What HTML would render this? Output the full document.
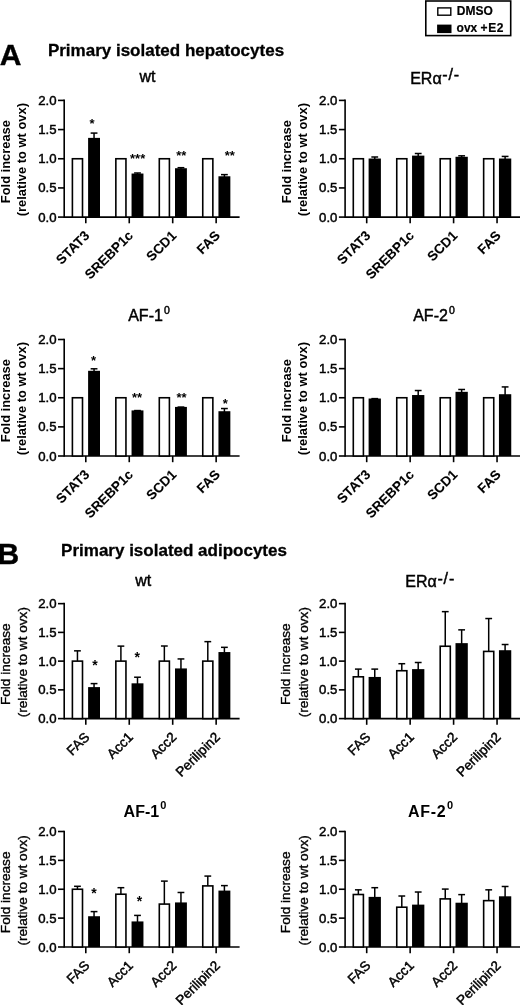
<!DOCTYPE html>
<html><head><meta charset="utf-8"><style>
html,body{margin:0;padding:0;background:#fff;}
body{width:520px;height:1005px;overflow:hidden;}
svg{display:block;will-change:transform;font-family:"Liberation Sans",sans-serif;}
line{stroke:#000;stroke-linecap:butt;}
.wb{fill:#fff;stroke:#000;stroke-width:1.6;}
.bb{fill:#000;}
.yt{font-size:13.2px;text-anchor:end;fill:#000;stroke:#000;stroke-width:0.45px;}
.ylb{font-size:13.6px;text-anchor:middle;stroke:#000;stroke-width:0.35px;}
.xlb{font-size:13.6px;text-anchor:end;stroke:#000;stroke-width:0.45px;}
.yl{font-size:12.9px;font-weight:bold;text-anchor:middle;}
.xl{font-size:13.5px;font-weight:bold;text-anchor:end;stroke:#000;stroke-width:0.1px;}
.st{font-size:13px;font-weight:bold;text-anchor:middle;}
.stb{font-size:14px;font-weight:bold;text-anchor:middle;}
.big{font-size:30px;font-weight:bold;stroke:#000;stroke-width:0.4px;}
.hd{font-size:17px;font-weight:bold;stroke:#000;stroke-width:0.3px;}
.pt{font-size:16px;stroke:#000;stroke-width:0.45px;}
.ptb{font-size:16px;font-weight:bold;}
.lg{font-size:12px;font-weight:bold;stroke:#000;stroke-width:0.2px;}
</style></head><body>
<svg width="520" height="1005" viewBox="0 0 520 1005">
<rect x="425.8" y="1" width="84.9" height="34.6" fill="#fff" stroke="#000" stroke-width="1.6"/>
<rect x="437.8" y="7.9" width="13" height="7.3" fill="#fff" stroke="#000" stroke-width="1.4"/>
<rect x="437.1" y="24.6" width="14.4" height="8.5" fill="#000"/>
<text class="lg" x="456.8" y="15">DMSO</text>
<text class="lg" x="456.6" y="32">ovx <tspan letter-spacing="0.6">+E2</tspan></text>
<text class="big" x="-0.2" y="65">A</text>
<text class="hd" x="47.9" y="55.8">Primary isolated hepatocytes</text>
<text class="big" x="-2.6" y="564.2">B</text>
<text class="hd" x="61.1" y="556">Primary isolated adipocytes</text>
<text class="pt" x="139.4" y="81.7">wt</text>
<text class="pt" x="410.2" y="83.5">ERα<tspan dx="0.6" dy="-3.7" letter-spacing="0.9">-/-</tspan></text>
<text class="pt" x="128.2" y="320.9">AF-1<tspan dx="1.2" dy="-6.8" font-size="10.5">0</tspan></text>
<text class="pt" x="413.2" y="320.9">AF-2<tspan dx="1.2" dy="-6.8" font-size="10.5">0</tspan></text>
<text class="pt" x="135.2" y="585.8">wt</text>
<text class="pt" x="405.3" y="587.2">ERα<tspan dx="0.6" dy="-3.7" letter-spacing="0.9">-/-</tspan></text>
<text class="ptb" x="123.6" y="816.6">AF-1<tspan dx="1.2" dy="-8" font-size="11">0</tspan></text>
<text class="ptb" x="408" y="816.6" letter-spacing="0.7">AF-2<tspan dx="0.6" dy="-8" font-size="11">0</tspan></text>
<g>
<line x1="64.2" y1="99.6" x2="64.2" y2="217.9" stroke-width="1.6"/>
<line x1="58" y1="217.1" x2="64.2" y2="217.1" stroke-width="1.6"/>
<text class="yt" x="56.5" y="221.6">0.0</text>
<line x1="58" y1="187.93" x2="64.2" y2="187.93" stroke-width="1.6"/>
<text class="yt" x="56.5" y="192.43">0.5</text>
<line x1="58" y1="158.75" x2="64.2" y2="158.75" stroke-width="1.6"/>
<text class="yt" x="56.5" y="163.25">1.0</text>
<line x1="58" y1="129.57" x2="64.2" y2="129.57" stroke-width="1.6"/>
<text class="yt" x="56.5" y="134.07">1.5</text>
<line x1="58" y1="100.4" x2="64.2" y2="100.4" stroke-width="1.6"/>
<text class="yt" x="56.5" y="104.9">2.0</text>
<line x1="64.2" y1="217.1" x2="239.6" y2="217.1" stroke-width="1.6"/>
<text class="yl" transform="translate(10.2,161.65) rotate(-90)">Fold increase</text>
<text class="yl" transform="translate(26.2,159.65) rotate(-90)">(relative to wt ovx)</text>
<line x1="85.8" y1="217.1" x2="85.8" y2="223.3" stroke-width="1.6"/>
<rect class="wb" x="72.4" y="158.75" width="10.1" height="58.35"/>
<line x1="94.05" y1="138.68" x2="94.05" y2="133.08" stroke-width="1.5"/>
<line x1="90.65" y1="133.08" x2="97.45" y2="133.08" stroke-width="1.5"/>
<rect class="bb" x="88.1" y="137.88" width="11.9" height="79.22"/>
<text class="st" x="92.1" y="127.8">*</text>
<text class="xl" transform="translate(90.4,236.5) rotate(-45)">STAT3</text>
<line x1="129.25" y1="217.1" x2="129.25" y2="223.3" stroke-width="1.6"/>
<rect class="wb" x="115.85" y="158.75" width="10.1" height="58.35"/>
<line x1="137.5" y1="174.33" x2="137.5" y2="172.99" stroke-width="1.5"/>
<line x1="134.1" y1="172.99" x2="140.9" y2="172.99" stroke-width="1.5"/>
<rect class="bb" x="131.55" y="173.53" width="11.9" height="43.57"/>
<text class="st" x="137.65" y="162.5">***</text>
<text class="xl" transform="translate(133.85,236.5) rotate(-45)">SREBP1c</text>
<line x1="172.7" y1="217.1" x2="172.7" y2="223.3" stroke-width="1.6"/>
<rect class="wb" x="159.3" y="158.75" width="10.1" height="58.35"/>
<line x1="180.95" y1="169.02" x2="180.95" y2="167.68" stroke-width="1.5"/>
<line x1="177.55" y1="167.68" x2="184.35" y2="167.68" stroke-width="1.5"/>
<rect class="bb" x="175" y="168.22" width="11.9" height="48.88"/>
<text class="st" x="181.25" y="159.9">**</text>
<text class="xl" transform="translate(177.3,236.5) rotate(-45)">SCD1</text>
<line x1="216.15" y1="217.1" x2="216.15" y2="223.3" stroke-width="1.6"/>
<rect class="wb" x="202.75" y="158.75" width="10.1" height="58.35"/>
<line x1="224.4" y1="177.07" x2="224.4" y2="174.62" stroke-width="1.5"/>
<line x1="221" y1="174.62" x2="227.8" y2="174.62" stroke-width="1.5"/>
<rect class="bb" x="218.45" y="176.27" width="11.9" height="40.83"/>
<text class="st" x="229.8" y="160.4">**</text>
<text class="xl" transform="translate(220.75,236.5) rotate(-45)">FAS</text>
<line x1="345.1" y1="99.6" x2="345.1" y2="217.9" stroke-width="1.6"/>
<line x1="338.9" y1="217.1" x2="345.1" y2="217.1" stroke-width="1.6"/>
<text class="yt" x="337.4" y="221.6">0.0</text>
<line x1="338.9" y1="187.93" x2="345.1" y2="187.93" stroke-width="1.6"/>
<text class="yt" x="337.4" y="192.43">0.5</text>
<line x1="338.9" y1="158.75" x2="345.1" y2="158.75" stroke-width="1.6"/>
<text class="yt" x="337.4" y="163.25">1.0</text>
<line x1="338.9" y1="129.57" x2="345.1" y2="129.57" stroke-width="1.6"/>
<text class="yt" x="337.4" y="134.07">1.5</text>
<line x1="338.9" y1="100.4" x2="345.1" y2="100.4" stroke-width="1.6"/>
<text class="yt" x="337.4" y="104.9">2.0</text>
<line x1="345.1" y1="217.1" x2="520.5" y2="217.1" stroke-width="1.6"/>
<text class="yl" transform="translate(291.1,161.65) rotate(-90)">Fold increase</text>
<text class="yl" transform="translate(307.1,159.65) rotate(-90)">(relative to wt ovx)</text>
<line x1="366.7" y1="217.1" x2="366.7" y2="223.3" stroke-width="1.6"/>
<rect class="wb" x="353.3" y="158.75" width="10.1" height="58.35"/>
<line x1="374.75" y1="159.33" x2="374.75" y2="157" stroke-width="1.5"/>
<line x1="371.35" y1="157" x2="378.15" y2="157" stroke-width="1.5"/>
<rect class="bb" x="368.6" y="158.53" width="12.3" height="58.57"/>
<text class="xl" transform="translate(371.3,236.5) rotate(-45)">STAT3</text>
<line x1="410.15" y1="217.1" x2="410.15" y2="223.3" stroke-width="1.6"/>
<rect class="wb" x="396.75" y="158.75" width="10.1" height="58.35"/>
<line x1="418.2" y1="156.42" x2="418.2" y2="153.5" stroke-width="1.5"/>
<line x1="414.8" y1="153.5" x2="421.6" y2="153.5" stroke-width="1.5"/>
<rect class="bb" x="412.05" y="155.62" width="12.3" height="61.48"/>
<text class="xl" transform="translate(414.75,236.5) rotate(-45)">SREBP1c</text>
<line x1="453.6" y1="217.1" x2="453.6" y2="223.3" stroke-width="1.6"/>
<rect class="wb" x="440.2" y="158.75" width="10.1" height="58.35"/>
<line x1="461.65" y1="157.58" x2="461.65" y2="155.83" stroke-width="1.5"/>
<line x1="458.25" y1="155.83" x2="465.05" y2="155.83" stroke-width="1.5"/>
<rect class="bb" x="455.5" y="156.78" width="12.3" height="60.32"/>
<text class="xl" transform="translate(458.2,236.5) rotate(-45)">SCD1</text>
<line x1="497.05" y1="217.1" x2="497.05" y2="223.3" stroke-width="1.6"/>
<rect class="wb" x="483.65" y="158.75" width="10.1" height="58.35"/>
<line x1="505.1" y1="159.33" x2="505.1" y2="156.42" stroke-width="1.5"/>
<line x1="501.7" y1="156.42" x2="508.5" y2="156.42" stroke-width="1.5"/>
<rect class="bb" x="498.95" y="158.53" width="12.3" height="58.57"/>
<text class="xl" transform="translate(501.65,236.5) rotate(-45)">FAS</text>
<line x1="64.2" y1="338.7" x2="64.2" y2="456.8" stroke-width="1.6"/>
<line x1="58" y1="456" x2="64.2" y2="456" stroke-width="1.6"/>
<text class="yt" x="56.5" y="460.5">0.0</text>
<line x1="58" y1="426.88" x2="64.2" y2="426.88" stroke-width="1.6"/>
<text class="yt" x="56.5" y="431.38">0.5</text>
<line x1="58" y1="397.75" x2="64.2" y2="397.75" stroke-width="1.6"/>
<text class="yt" x="56.5" y="402.25">1.0</text>
<line x1="58" y1="368.62" x2="64.2" y2="368.62" stroke-width="1.6"/>
<text class="yt" x="56.5" y="373.12">1.5</text>
<line x1="58" y1="339.5" x2="64.2" y2="339.5" stroke-width="1.6"/>
<text class="yt" x="56.5" y="344">2.0</text>
<line x1="64.2" y1="456" x2="239.6" y2="456" stroke-width="1.6"/>
<text class="yl" transform="translate(10.2,400.65) rotate(-90)">Fold increase</text>
<text class="yl" transform="translate(26.2,398.65) rotate(-90)">(relative to wt ovx)</text>
<line x1="85.8" y1="456" x2="85.8" y2="462.2" stroke-width="1.6"/>
<rect class="wb" x="72.4" y="397.75" width="10.1" height="58.25"/>
<line x1="94.05" y1="371.6" x2="94.05" y2="368.8" stroke-width="1.5"/>
<line x1="90.65" y1="368.8" x2="97.45" y2="368.8" stroke-width="1.5"/>
<rect class="bb" x="88.1" y="370.8" width="11.9" height="85.2"/>
<text class="st" x="93.5" y="364.6">*</text>
<text class="xl" transform="translate(90.4,475.4) rotate(-45)">STAT3</text>
<line x1="129.25" y1="456" x2="129.25" y2="462.2" stroke-width="1.6"/>
<rect class="wb" x="115.85" y="397.75" width="10.1" height="58.25"/>
<line x1="137.5" y1="411.21" x2="137.5" y2="410.56" stroke-width="1.5"/>
<line x1="134.1" y1="410.56" x2="140.9" y2="410.56" stroke-width="1.5"/>
<rect class="bb" x="131.55" y="410.41" width="11.9" height="45.59"/>
<text class="st" x="137.1" y="402.4">**</text>
<text class="xl" transform="translate(133.85,475.4) rotate(-45)">SREBP1c</text>
<line x1="172.7" y1="456" x2="172.7" y2="462.2" stroke-width="1.6"/>
<rect class="wb" x="159.3" y="397.75" width="10.1" height="58.25"/>
<line x1="180.95" y1="407.71" x2="180.95" y2="407.07" stroke-width="1.5"/>
<line x1="177.55" y1="407.07" x2="184.35" y2="407.07" stroke-width="1.5"/>
<rect class="bb" x="175" y="406.91" width="11.9" height="49.09"/>
<text class="st" x="181.5" y="402.4">**</text>
<text class="xl" transform="translate(177.3,475.4) rotate(-45)">SCD1</text>
<line x1="216.15" y1="456" x2="216.15" y2="462.2" stroke-width="1.6"/>
<rect class="wb" x="202.75" y="397.75" width="10.1" height="58.25"/>
<line x1="224.4" y1="412.02" x2="224.4" y2="408.53" stroke-width="1.5"/>
<line x1="221" y1="408.53" x2="227.8" y2="408.53" stroke-width="1.5"/>
<rect class="bb" x="218.45" y="411.22" width="11.9" height="44.78"/>
<text class="st" x="225.4" y="408.2">*</text>
<text class="xl" transform="translate(220.75,475.4) rotate(-45)">FAS</text>
<line x1="345.1" y1="338.7" x2="345.1" y2="456.8" stroke-width="1.6"/>
<line x1="338.9" y1="456" x2="345.1" y2="456" stroke-width="1.6"/>
<text class="yt" x="337.4" y="460.5">0.0</text>
<line x1="338.9" y1="426.88" x2="345.1" y2="426.88" stroke-width="1.6"/>
<text class="yt" x="337.4" y="431.38">0.5</text>
<line x1="338.9" y1="397.75" x2="345.1" y2="397.75" stroke-width="1.6"/>
<text class="yt" x="337.4" y="402.25">1.0</text>
<line x1="338.9" y1="368.62" x2="345.1" y2="368.62" stroke-width="1.6"/>
<text class="yt" x="337.4" y="373.12">1.5</text>
<line x1="338.9" y1="339.5" x2="345.1" y2="339.5" stroke-width="1.6"/>
<text class="yt" x="337.4" y="344">2.0</text>
<line x1="345.1" y1="456" x2="520.5" y2="456" stroke-width="1.6"/>
<text class="yl" transform="translate(291.1,400.65) rotate(-90)">Fold increase</text>
<text class="yl" transform="translate(307.1,398.65) rotate(-90)">(relative to wt ovx)</text>
<line x1="366.7" y1="456" x2="366.7" y2="462.2" stroke-width="1.6"/>
<rect class="wb" x="353.3" y="397.75" width="10.1" height="58.25"/>
<line x1="374.75" y1="399.32" x2="374.75" y2="398.62" stroke-width="1.5"/>
<line x1="371.35" y1="398.62" x2="378.15" y2="398.62" stroke-width="1.5"/>
<rect class="bb" x="368.6" y="398.52" width="12.3" height="57.48"/>
<text class="xl" transform="translate(371.3,475.4) rotate(-45)">STAT3</text>
<line x1="410.15" y1="456" x2="410.15" y2="462.2" stroke-width="1.6"/>
<rect class="wb" x="396.75" y="397.75" width="10.1" height="58.25"/>
<line x1="418.2" y1="395.83" x2="418.2" y2="390.53" stroke-width="1.5"/>
<line x1="414.8" y1="390.53" x2="421.6" y2="390.53" stroke-width="1.5"/>
<rect class="bb" x="412.05" y="395.03" width="12.3" height="60.97"/>
<text class="xl" transform="translate(414.75,475.4) rotate(-45)">SREBP1c</text>
<line x1="453.6" y1="456" x2="453.6" y2="462.2" stroke-width="1.6"/>
<rect class="wb" x="440.2" y="397.75" width="10.1" height="58.25"/>
<line x1="461.65" y1="392.62" x2="461.65" y2="389.48" stroke-width="1.5"/>
<line x1="458.25" y1="389.48" x2="465.05" y2="389.48" stroke-width="1.5"/>
<rect class="bb" x="455.5" y="391.82" width="12.3" height="64.18"/>
<text class="xl" transform="translate(458.2,475.4) rotate(-45)">SCD1</text>
<line x1="497.05" y1="456" x2="497.05" y2="462.2" stroke-width="1.6"/>
<rect class="wb" x="483.65" y="397.75" width="10.1" height="58.25"/>
<line x1="505.1" y1="395.01" x2="505.1" y2="386.92" stroke-width="1.5"/>
<line x1="501.7" y1="386.92" x2="508.5" y2="386.92" stroke-width="1.5"/>
<rect class="bb" x="498.95" y="394.21" width="12.3" height="61.79"/>
<text class="xl" transform="translate(501.65,475.4) rotate(-45)">FAS</text>
<line x1="64.2" y1="602.85" x2="64.2" y2="719.4" stroke-width="1.6"/>
<line x1="58" y1="718.6" x2="64.2" y2="718.6" stroke-width="1.6"/>
<text class="yt" x="56.5" y="723.1">0.0</text>
<line x1="58" y1="689.86" x2="64.2" y2="689.86" stroke-width="1.6"/>
<text class="yt" x="56.5" y="694.36">0.5</text>
<line x1="58" y1="661.12" x2="64.2" y2="661.12" stroke-width="1.6"/>
<text class="yt" x="56.5" y="665.62">1.0</text>
<line x1="58" y1="632.39" x2="64.2" y2="632.39" stroke-width="1.6"/>
<text class="yt" x="56.5" y="636.89">1.5</text>
<line x1="58" y1="603.65" x2="64.2" y2="603.65" stroke-width="1.6"/>
<text class="yt" x="56.5" y="608.15">2.0</text>
<line x1="64.2" y1="718.6" x2="239.6" y2="718.6" stroke-width="1.6"/>
<text class="ylb" transform="translate(9.5,664.23) rotate(-90)">Fold increase</text>
<text class="ylb" transform="translate(27.4,662.23) rotate(-90)">(relative to wt ovx)</text>
<line x1="85.8" y1="718.6" x2="85.8" y2="724.8" stroke-width="1.6"/>
<line x1="77.45" y1="661.12" x2="77.45" y2="650.84" stroke-width="1.5"/>
<line x1="74.05" y1="650.84" x2="80.85" y2="650.84" stroke-width="1.5"/>
<rect class="wb" x="72.4" y="661.12" width="10.1" height="57.48"/>
<line x1="94.05" y1="687.91" x2="94.05" y2="683.6" stroke-width="1.5"/>
<line x1="90.65" y1="683.6" x2="97.45" y2="683.6" stroke-width="1.5"/>
<rect class="bb" x="88.1" y="687.11" width="11.9" height="31.49"/>
<text class="stb" x="95.1" y="670.2">*</text>
<text class="xlb" transform="translate(90.4,738) rotate(-45)">FAS</text>
<line x1="129.25" y1="718.6" x2="129.25" y2="724.8" stroke-width="1.6"/>
<line x1="120.9" y1="661.12" x2="120.9" y2="646.12" stroke-width="1.5"/>
<line x1="117.5" y1="646.12" x2="124.3" y2="646.12" stroke-width="1.5"/>
<rect class="wb" x="115.85" y="661.12" width="10.1" height="57.48"/>
<line x1="137.5" y1="684.12" x2="137.5" y2="677.22" stroke-width="1.5"/>
<line x1="134.1" y1="677.22" x2="140.9" y2="677.22" stroke-width="1.5"/>
<rect class="bb" x="131.55" y="683.32" width="11.9" height="35.29"/>
<text class="stb" x="137.3" y="661.5">*</text>
<text class="xlb" transform="translate(133.85,738) rotate(-45)">Acc1</text>
<line x1="172.7" y1="718.6" x2="172.7" y2="724.8" stroke-width="1.6"/>
<line x1="164.35" y1="661.12" x2="164.35" y2="646.01" stroke-width="1.5"/>
<line x1="160.95" y1="646.01" x2="167.75" y2="646.01" stroke-width="1.5"/>
<rect class="wb" x="159.3" y="661.12" width="10.1" height="57.48"/>
<line x1="180.95" y1="669.23" x2="180.95" y2="658.94" stroke-width="1.5"/>
<line x1="177.55" y1="658.94" x2="184.35" y2="658.94" stroke-width="1.5"/>
<rect class="bb" x="175" y="668.43" width="11.9" height="50.17"/>
<text class="xlb" transform="translate(177.3,738) rotate(-45)">Acc2</text>
<line x1="216.15" y1="718.6" x2="216.15" y2="724.8" stroke-width="1.6"/>
<line x1="207.8" y1="661.12" x2="207.8" y2="641.64" stroke-width="1.5"/>
<line x1="204.4" y1="641.64" x2="211.2" y2="641.64" stroke-width="1.5"/>
<rect class="wb" x="202.75" y="661.12" width="10.1" height="57.48"/>
<line x1="224.4" y1="652.85" x2="224.4" y2="647.33" stroke-width="1.5"/>
<line x1="221" y1="647.33" x2="227.8" y2="647.33" stroke-width="1.5"/>
<rect class="bb" x="218.45" y="652.05" width="11.9" height="66.55"/>
<text class="xlb" transform="translate(220.75,738) rotate(-45)">Perilipin2</text>
<line x1="345.1" y1="602.85" x2="345.1" y2="719.4" stroke-width="1.6"/>
<line x1="338.9" y1="718.6" x2="345.1" y2="718.6" stroke-width="1.6"/>
<text class="yt" x="337.4" y="723.1">0.0</text>
<line x1="338.9" y1="689.86" x2="345.1" y2="689.86" stroke-width="1.6"/>
<text class="yt" x="337.4" y="694.36">0.5</text>
<line x1="338.9" y1="661.12" x2="345.1" y2="661.12" stroke-width="1.6"/>
<text class="yt" x="337.4" y="665.62">1.0</text>
<line x1="338.9" y1="632.39" x2="345.1" y2="632.39" stroke-width="1.6"/>
<text class="yt" x="337.4" y="636.89">1.5</text>
<line x1="338.9" y1="603.65" x2="345.1" y2="603.65" stroke-width="1.6"/>
<text class="yt" x="337.4" y="608.15">2.0</text>
<line x1="345.1" y1="718.6" x2="520.5" y2="718.6" stroke-width="1.6"/>
<text class="ylb" transform="translate(290.4,664.23) rotate(-90)">Fold increase</text>
<text class="ylb" transform="translate(308.3,662.23) rotate(-90)">(relative to wt ovx)</text>
<line x1="366.7" y1="718.6" x2="366.7" y2="724.8" stroke-width="1.6"/>
<line x1="358.35" y1="676.82" x2="358.35" y2="669.11" stroke-width="1.5"/>
<line x1="354.95" y1="669.11" x2="361.75" y2="669.11" stroke-width="1.5"/>
<rect class="wb" x="353.3" y="676.82" width="10.1" height="41.78"/>
<line x1="374.75" y1="677.74" x2="374.75" y2="669.11" stroke-width="1.5"/>
<line x1="371.35" y1="669.11" x2="378.15" y2="669.11" stroke-width="1.5"/>
<rect class="bb" x="368.6" y="676.94" width="12.3" height="41.66"/>
<text class="xlb" transform="translate(371.3,738) rotate(-45)">FAS</text>
<line x1="410.15" y1="718.6" x2="410.15" y2="724.8" stroke-width="1.6"/>
<line x1="401.8" y1="670.72" x2="401.8" y2="663.71" stroke-width="1.5"/>
<line x1="398.4" y1="663.71" x2="405.2" y2="663.71" stroke-width="1.5"/>
<rect class="wb" x="396.75" y="670.72" width="10.1" height="47.88"/>
<line x1="418.2" y1="669.92" x2="418.2" y2="662.5" stroke-width="1.5"/>
<line x1="414.8" y1="662.5" x2="421.6" y2="662.5" stroke-width="1.5"/>
<rect class="bb" x="412.05" y="669.12" width="12.3" height="49.48"/>
<text class="xlb" transform="translate(414.75,738) rotate(-45)">Acc1</text>
<line x1="453.6" y1="718.6" x2="453.6" y2="724.8" stroke-width="1.6"/>
<line x1="445.25" y1="646.24" x2="445.25" y2="611.64" stroke-width="1.5"/>
<line x1="441.85" y1="611.64" x2="448.65" y2="611.64" stroke-width="1.5"/>
<rect class="wb" x="440.2" y="646.24" width="10.1" height="72.36"/>
<line x1="461.65" y1="643.94" x2="461.65" y2="629.86" stroke-width="1.5"/>
<line x1="458.25" y1="629.86" x2="465.05" y2="629.86" stroke-width="1.5"/>
<rect class="bb" x="455.5" y="643.14" width="12.3" height="75.46"/>
<text class="xlb" transform="translate(458.2,738) rotate(-45)">Acc2</text>
<line x1="497.05" y1="718.6" x2="497.05" y2="724.8" stroke-width="1.6"/>
<line x1="488.7" y1="651.41" x2="488.7" y2="618.54" stroke-width="1.5"/>
<line x1="485.3" y1="618.54" x2="492.1" y2="618.54" stroke-width="1.5"/>
<rect class="wb" x="483.65" y="651.41" width="10.1" height="67.19"/>
<line x1="505.1" y1="651.01" x2="505.1" y2="644.51" stroke-width="1.5"/>
<line x1="501.7" y1="644.51" x2="508.5" y2="644.51" stroke-width="1.5"/>
<rect class="bb" x="498.95" y="650.21" width="12.3" height="68.39"/>
<text class="xlb" transform="translate(501.65,738) rotate(-45)">Perilipin2</text>
<line x1="64.2" y1="830.7" x2="64.2" y2="947.8" stroke-width="1.6"/>
<line x1="58" y1="947" x2="64.2" y2="947" stroke-width="1.6"/>
<text class="yt" x="56.5" y="951.5">0.0</text>
<line x1="58" y1="918.12" x2="64.2" y2="918.12" stroke-width="1.6"/>
<text class="yt" x="56.5" y="922.62">0.5</text>
<line x1="58" y1="889.25" x2="64.2" y2="889.25" stroke-width="1.6"/>
<text class="yt" x="56.5" y="893.75">1.0</text>
<line x1="58" y1="860.38" x2="64.2" y2="860.38" stroke-width="1.6"/>
<text class="yt" x="56.5" y="864.88">1.5</text>
<line x1="58" y1="831.5" x2="64.2" y2="831.5" stroke-width="1.6"/>
<text class="yt" x="56.5" y="836">2.0</text>
<line x1="64.2" y1="947" x2="239.6" y2="947" stroke-width="1.6"/>
<text class="ylb" transform="translate(9.5,892.35) rotate(-90)">Fold increase</text>
<text class="ylb" transform="translate(27.4,890.35) rotate(-90)">(relative to wt ovx)</text>
<line x1="85.8" y1="947" x2="85.8" y2="953.2" stroke-width="1.6"/>
<line x1="77.45" y1="889.25" x2="77.45" y2="886.3" stroke-width="1.5"/>
<line x1="74.05" y1="886.3" x2="80.85" y2="886.3" stroke-width="1.5"/>
<rect class="wb" x="72.4" y="889.25" width="10.1" height="57.75"/>
<line x1="94.05" y1="917.03" x2="94.05" y2="911.6" stroke-width="1.5"/>
<line x1="90.65" y1="911.6" x2="97.45" y2="911.6" stroke-width="1.5"/>
<rect class="bb" x="88.1" y="916.23" width="11.9" height="30.77"/>
<text class="stb" x="93.9" y="898.2">*</text>
<text class="xlb" transform="translate(90.4,966.4) rotate(-45)">FAS</text>
<line x1="129.25" y1="947" x2="129.25" y2="953.2" stroke-width="1.6"/>
<line x1="120.9" y1="894.22" x2="120.9" y2="887.69" stroke-width="1.5"/>
<line x1="117.5" y1="887.69" x2="124.3" y2="887.69" stroke-width="1.5"/>
<rect class="wb" x="115.85" y="894.22" width="10.1" height="52.78"/>
<line x1="137.5" y1="922.23" x2="137.5" y2="915.41" stroke-width="1.5"/>
<line x1="134.1" y1="915.41" x2="140.9" y2="915.41" stroke-width="1.5"/>
<rect class="bb" x="131.55" y="921.43" width="11.9" height="25.57"/>
<text class="stb" x="139.4" y="905.7">*</text>
<text class="xlb" transform="translate(133.85,966.4) rotate(-45)">Acc1</text>
<line x1="172.7" y1="947" x2="172.7" y2="953.2" stroke-width="1.6"/>
<line x1="164.35" y1="904.09" x2="164.35" y2="881.11" stroke-width="1.5"/>
<line x1="160.95" y1="881.11" x2="167.75" y2="881.11" stroke-width="1.5"/>
<rect class="wb" x="159.3" y="904.09" width="10.1" height="42.91"/>
<line x1="180.95" y1="903.23" x2="180.95" y2="892.48" stroke-width="1.5"/>
<line x1="177.55" y1="892.48" x2="184.35" y2="892.48" stroke-width="1.5"/>
<rect class="bb" x="175" y="902.43" width="11.9" height="44.57"/>
<text class="xlb" transform="translate(177.3,966.4) rotate(-45)">Acc2</text>
<line x1="216.15" y1="947" x2="216.15" y2="953.2" stroke-width="1.6"/>
<line x1="207.8" y1="885.9" x2="207.8" y2="876.08" stroke-width="1.5"/>
<line x1="204.4" y1="876.08" x2="211.2" y2="876.08" stroke-width="1.5"/>
<rect class="wb" x="202.75" y="885.9" width="10.1" height="61.1"/>
<line x1="224.4" y1="891.39" x2="224.4" y2="885.61" stroke-width="1.5"/>
<line x1="221" y1="885.61" x2="227.8" y2="885.61" stroke-width="1.5"/>
<rect class="bb" x="218.45" y="890.59" width="11.9" height="56.41"/>
<text class="xlb" transform="translate(220.75,966.4) rotate(-45)">Perilipin2</text>
<line x1="345.1" y1="830.7" x2="345.1" y2="947.8" stroke-width="1.6"/>
<line x1="338.9" y1="947" x2="345.1" y2="947" stroke-width="1.6"/>
<text class="yt" x="337.4" y="951.5">0.0</text>
<line x1="338.9" y1="918.12" x2="345.1" y2="918.12" stroke-width="1.6"/>
<text class="yt" x="337.4" y="922.62">0.5</text>
<line x1="338.9" y1="889.25" x2="345.1" y2="889.25" stroke-width="1.6"/>
<text class="yt" x="337.4" y="893.75">1.0</text>
<line x1="338.9" y1="860.38" x2="345.1" y2="860.38" stroke-width="1.6"/>
<text class="yt" x="337.4" y="864.88">1.5</text>
<line x1="338.9" y1="831.5" x2="345.1" y2="831.5" stroke-width="1.6"/>
<text class="yt" x="337.4" y="836">2.0</text>
<line x1="345.1" y1="947" x2="520.5" y2="947" stroke-width="1.6"/>
<text class="ylb" transform="translate(290.4,892.35) rotate(-90)">Fold increase</text>
<text class="ylb" transform="translate(308.3,890.35) rotate(-90)">(relative to wt ovx)</text>
<line x1="366.7" y1="947" x2="366.7" y2="953.2" stroke-width="1.6"/>
<line x1="358.35" y1="894.51" x2="358.35" y2="889.83" stroke-width="1.5"/>
<line x1="354.95" y1="889.83" x2="361.75" y2="889.83" stroke-width="1.5"/>
<rect class="wb" x="353.3" y="894.51" width="10.1" height="52.49"/>
<line x1="374.75" y1="897.68" x2="374.75" y2="887.69" stroke-width="1.5"/>
<line x1="371.35" y1="887.69" x2="378.15" y2="887.69" stroke-width="1.5"/>
<rect class="bb" x="368.6" y="896.88" width="12.3" height="50.12"/>
<text class="xlb" transform="translate(371.3,966.4) rotate(-45)">FAS</text>
<line x1="410.15" y1="947" x2="410.15" y2="953.2" stroke-width="1.6"/>
<line x1="401.8" y1="907.21" x2="401.8" y2="896.01" stroke-width="1.5"/>
<line x1="398.4" y1="896.01" x2="405.2" y2="896.01" stroke-width="1.5"/>
<rect class="wb" x="396.75" y="907.21" width="10.1" height="39.79"/>
<line x1="418.2" y1="905.42" x2="418.2" y2="892.02" stroke-width="1.5"/>
<line x1="414.8" y1="892.02" x2="421.6" y2="892.02" stroke-width="1.5"/>
<rect class="bb" x="412.05" y="904.62" width="12.3" height="42.38"/>
<text class="xlb" transform="translate(414.75,966.4) rotate(-45)">Acc1</text>
<line x1="453.6" y1="947" x2="453.6" y2="953.2" stroke-width="1.6"/>
<line x1="445.25" y1="898.89" x2="445.25" y2="889.08" stroke-width="1.5"/>
<line x1="441.85" y1="889.08" x2="448.65" y2="889.08" stroke-width="1.5"/>
<rect class="wb" x="440.2" y="898.89" width="10.1" height="48.11"/>
<line x1="461.65" y1="903.51" x2="461.65" y2="894.62" stroke-width="1.5"/>
<line x1="458.25" y1="894.62" x2="465.05" y2="894.62" stroke-width="1.5"/>
<rect class="bb" x="455.5" y="902.71" width="12.3" height="44.29"/>
<text class="xlb" transform="translate(458.2,966.4) rotate(-45)">Acc2</text>
<line x1="497.05" y1="947" x2="497.05" y2="953.2" stroke-width="1.6"/>
<line x1="488.7" y1="900.63" x2="488.7" y2="889.83" stroke-width="1.5"/>
<line x1="485.3" y1="889.83" x2="492.1" y2="889.83" stroke-width="1.5"/>
<rect class="wb" x="483.65" y="900.63" width="10.1" height="46.37"/>
<line x1="505.1" y1="897.1" x2="505.1" y2="886.48" stroke-width="1.5"/>
<line x1="501.7" y1="886.48" x2="508.5" y2="886.48" stroke-width="1.5"/>
<rect class="bb" x="498.95" y="896.3" width="12.3" height="50.7"/>
<text class="xlb" transform="translate(501.65,966.4) rotate(-45)">Perilipin2</text>
</g>
</svg>
</body></html>
